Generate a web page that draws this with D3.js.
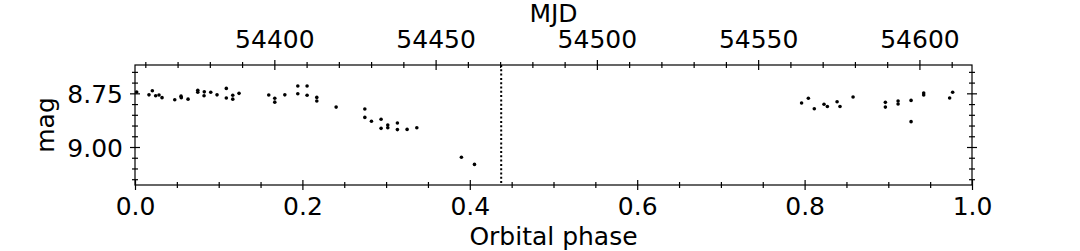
<!DOCTYPE html>
<html>
<head>
<meta charset="utf-8">
<script src="https://cdn.jsdelivr.net/npm/d3@7"></script>
<style>
  body { margin: 0; background: #fff; }
  svg { display: block; }
</style>
</head>
<body>
<div id="chart"></div>
<script>
// orbital phase and magnitude of each observation
var phase = [0.002, 0.0167, 0.0207, 0.0247, 0.0287, 0.0323, 0.0475, 0.055, 0.0553, 0.0634,
  0.075, 0.075, 0.0828, 0.0825, 0.0905, 0.098, 0.1091, 0.1091, 0.1168, 0.1168,
  0.1243, 0.1598, 0.167, 0.167, 0.179, 0.1945, 0.1945, 0.2056, 0.2056, 0.2172,
  0.2172, 0.2403, 0.2746, 0.2746, 0.2825, 0.294, 0.294, 0.302, 0.302, 0.3135,
  0.3135, 0.3251, 0.3367, 0.390, 0.4056,
  0.7964, 0.8045, 0.8116, 0.8232, 0.8272, 0.8388, 0.8423, 0.8579, 0.8965, 0.8965,
  0.9117, 0.9117, 0.9272, 0.9272, 0.9423, 0.9423, 0.9733, 0.9769];
var mag = [8.744, 8.757, 8.738, 8.761, 8.758, 8.770, 8.780, 8.763, 8.770, 8.777,
  8.736, 8.745, 8.743, 8.761, 8.745, 8.757, 8.727, 8.772, 8.759, 8.777,
  8.750, 8.758, 8.773, 8.791, 8.757, 8.716, 8.752, 8.716, 8.759, 8.769,
  8.786, 8.814, 8.823, 8.862, 8.880, 8.871, 8.913, 8.898, 8.910, 8.888,
  8.919, 8.918, 8.910, 9.048, 9.081,
  8.795, 8.773, 8.822, 8.801, 8.811, 8.789, 8.811, 8.767, 8.792, 8.814,
  8.786, 8.800, 8.783, 8.882, 8.749, 8.758, 8.772, 8.745];

// phase of the dotted marker
var markerPhase = [0.4375];

// MJD at phase 0 and phase 1 (top axis)
var mjdRange = [54356.8, 54616.3];

// ticks
var phaseTicks = [0, 0.2, 0.4, 0.6, 0.8, 1.0];
var phaseMinor = [0.05, 0.1, 0.15, 0.25, 0.3, 0.35, 0.45, 0.5, 0.55, 0.65, 0.7, 0.75, 0.85, 0.9, 0.95];
var mjdTicks = [54400, 54450, 54500, 54550, 54600];
var mjdMinor = [54360, 54370, 54380, 54390, 54410, 54420, 54430, 54440, 54460, 54470, 54480, 54490,
  54510, 54520, 54530, 54540, 54560, 54570, 54580, 54590, 54610];
var magTicks = [8.75, 9.00];
var magMinor = [8.65, 8.70, 8.80, 8.85, 8.90, 8.95, 9.05, 9.10, 9.15];

var W = 1080, H = 251;
var pLeft = 135, pRight = 972, pTop = 65, pBottom = 185;
var font = "DejaVu Sans";

var svg = d3.select("#chart").append("svg")
  .attr("width", W)
  .attr("height", H);

var x = d3.scaleLinear().domain([0, 1]).range([pLeft, pRight]);
var xTop = d3.scaleLinear().domain(mjdRange).range([pLeft, pRight]);
var y = d3.scaleLinear().domain([8.618, 9.177]).range([pTop, pBottom]);

// draws an axis with ticks crossing the spine (in and out)
function drawAxis(axisFn, scale, vals, fmt, tx, ty, half) {
  var g = svg.append("g")
    .attr("transform", "translate(" + tx + "," + ty + ")")
    .call(axisFn(scale).tickValues(vals).tickFormat(fmt).tickSizeOuter(0));
  g.select(".domain").remove();
  g.attr("font-family", font).attr("font-size", 25);
  var vert = (axisFn === d3.axisBottom || axisFn === d3.axisTop);
  g.selectAll(".tick line")
    .attr(vert ? "y1" : "x1", -half)
    .attr(vert ? "y2" : "x2", half)
    .attr("stroke", "#000")
    .attr("stroke-width", 1.2);
  g.selectAll(".tick text").attr("fill", "#000");
  return g;
}

var noLabel = function() { return ""; };

// bottom: orbital phase
drawAxis(d3.axisBottom, x, phaseMinor, noLabel, 0, pBottom, 3);
drawAxis(d3.axisBottom, x, phaseTicks, d3.format(".1f"), 0, pBottom, 5)
  .selectAll(".tick text").attr("y", 30).attr("dy", 0);

// top: MJD
drawAxis(d3.axisTop, xTop, mjdMinor, noLabel, 0, pTop, 3);
drawAxis(d3.axisTop, xTop, mjdTicks, d3.format("d"), 0, pTop, 5)
  .selectAll(".tick text").attr("y", -17.5).attr("dy", 0);

// left and right: magnitude
drawAxis(d3.axisLeft, y, magMinor, noLabel, pLeft, 0, 3);
drawAxis(d3.axisLeft, y, magTicks, d3.format(".2f"), pLeft, 0, 5)
  .selectAll(".tick text").attr("x", -12).attr("dy", "0.37em");
drawAxis(d3.axisRight, y, magMinor, noLabel, pRight, 0, 3);
drawAxis(d3.axisRight, y, magTicks, noLabel, pRight, 0, 5);

// frame
svg.append("rect")
  .attr("x", pLeft)
  .attr("y", pTop)
  .attr("width", pRight - pLeft)
  .attr("height", pBottom - pTop)
  .attr("fill", "none")
  .attr("stroke", "#000")
  .attr("stroke-width", 1.2);

// dotted vertical marker
svg.selectAll(".marker")
  .data(markerPhase)
  .enter().append("line")
  .attr("class", "marker")
  .attr("x1", d => x(d))
  .attr("x2", d => x(d))
  .attr("y1", pTop)
  .attr("y2", pBottom)
  .attr("stroke", "#000")
  .attr("stroke-width", 2)
  .attr("stroke-dasharray", "2,2.3");

// observations
svg.selectAll(".dot")
  .data(phase)
  .enter().append("circle")
  .attr("class", "dot")
  .attr("cx", d => x(d))
  .attr("cy", (d, i) => y(mag[i]))
  .attr("r", 1.8)
  .attr("fill", "#000");

// axis titles
svg.append("text")
  .attr("x", (pLeft + pRight) / 2)
  .attr("y", 244.5)
  .attr("text-anchor", "middle")
  .attr("font-family", font)
  .attr("font-size", 25)
  .text("Orbital phase");

svg.append("text")
  .attr("x", (pLeft + pRight) / 2)
  .attr("y", 21.5)
  .attr("text-anchor", "middle")
  .attr("font-family", font)
  .attr("font-size", 25)
  .text("MJD");

svg.append("text")
  .attr("transform", "translate(54," + (pTop + pBottom) / 2 + ") rotate(-90)")
  .attr("text-anchor", "middle")
  .attr("font-family", font)
  .attr("font-size", 25)
  .text("mag");
</script>
</body>
</html>
